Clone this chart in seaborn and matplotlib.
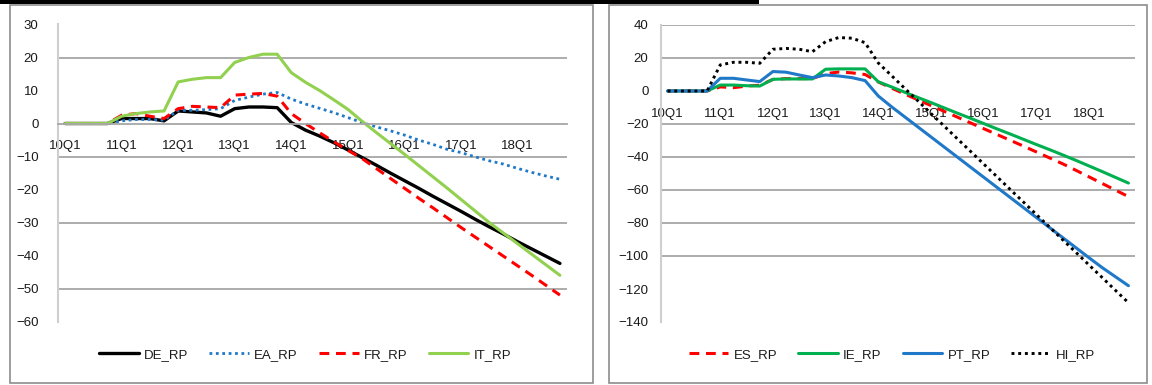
import matplotlib
matplotlib.use("Agg")
import matplotlib.pyplot as plt
import numpy as np
import seaborn as sns
from matplotlib.patches import Rectangle

# quarters 10Q1 .. 18Q4
quarters = [f"{y}Q{q}" for y in range(10, 19) for q in range(1, 5)]

# left panel
de_rp = [0, 0, 0, 0, 1.5, 1.5, 1.5, 0.8, 3.8, 3.5, 3.2, 2.2, 4.5, 5.0, 5.0, 4.8,
         0.3, -2.0, -3.8, -5.8, -8.0, -10.3, -12.6, -15.0, -17.3, -19.6, -22.0, -24.3,
         -26.6, -29.0, -31.3, -33.5, -35.8, -38.0, -40.2, -42.4]
ea_rp = [0, 0, 0, 0, 0.8, 1.2, 1.2, 1.0, 4.0, 4.0, 4.2, 4.5, 7.0, 8.0, 8.9, 9.4,
         7.4, 5.9, 4.6, 3.3, 1.8, 0.3, -1.0, -2.2, -3.5, -5.0, -6.3, -7.8,
         -8.8, -10.1, -11.3, -12.3, -13.6, -14.8, -15.9, -16.9]
fr_rp = [0, 0, 0, 0, 2.5, 3.0, 2.2, 1.5, 4.5, 5.2, 5.0, 4.8, 8.6, 8.9, 9.1, 8.3,
         3.0, 0.0, -2.8, -5.5, -8.1, -10.6, -13.6, -16.6, -19.6, -22.6, -25.5, -28.5,
         -31.5, -34.4, -37.3, -40.2, -43.1, -46.0, -49.0, -52.0]
it_rp = [0, 0, 0, 0, 2.2, 3.0, 3.5, 3.8, 12.6, 13.4, 13.9, 13.9, 18.5, 20.0, 21.0, 21.0,
         15.4, 12.5, 10.0, 7.2, 4.3, 0.7, -2.7, -6.0, -9.3, -12.7, -16.1, -19.5,
         -23.0, -26.5, -30.0, -33.2, -36.4, -39.6, -42.8, -46.0]

# right panel
es_rp = [0, 0, 0, 0, 2.5, 2.0, 3.0, 3.5, 7.0, 7.5, 7.5, 7.5, 10.5, 11.5, 11.0, 10.0,
         5.5, 1.8, -1.8, -5.3, -8.8, -12.3, -15.8, -19.3, -22.8, -26.3, -29.8, -33.3,
         -36.9, -40.5, -44.1, -48.0, -52.0, -56.0, -60.0, -64.0]
ie_rp = [0, 0, 0, 0, 3.6, 3.6, 3.2, 3.0, 7.1, 7.3, 7.3, 7.3, 13.2, 13.4, 13.4, 13.4,
         5.6, 2.5, -0.7, -3.9, -7.0, -10.2, -13.4, -16.5, -19.7, -22.9, -26.0, -29.2,
         -32.4, -35.5, -38.7, -42.0, -45.4, -48.8, -52.3, -55.8]
pt_rp = [0, 0, 0, 0, 7.7, 7.7, 6.7, 5.7, 11.8, 11.4, 9.7, 8.1, 9.7, 9.1, 8.1, 6.3,
         -3.0, -9.5, -15.6, -21.7, -27.8, -33.9, -40.0, -46.1, -52.2, -58.3, -64.4, -70.5,
         -76.6, -82.7, -88.8, -94.9, -101.0, -107.0, -112.5, -118.0]
hi_rp = [0, 0, 0, 0, 15.8, 17.4, 17.4, 16.8, 25.3, 25.8, 25.3, 23.8, 29.9, 32.4, 32.0, 29.3,
         17.0, 9.4, 1.7, -5.9, -13.6, -21.2, -28.9, -36.5, -44.2, -51.8, -59.5, -67.1,
         -74.8, -82.4, -90.1, -97.7, -105.4, -113.0, -120.7, -128.3]

left_grid = [20, -10, -30, -50]
right_grid = [40, 20, -20, -40, -60, -80, -100]

sns.set_style("white")
plt.rcParams['font.family'] = ['Liberation Sans', 'DejaVu Sans']
txt = '#1a1a1a'
W, H = 1152, 385

fig = plt.figure(figsize=(11.52, 3.85), dpi=100)
ax1 = fig.add_axes([58 / W, 1 - 321.5 / H, 509 / W, 297 / H])
ax2 = fig.add_axes([661 / W, 1 - 322 / H, 474 / W, 297 / H])

x = np.arange(len(quarters))

left_series = [
    ("DE_RP", de_rp, "black", "-", 2.4),
    ("EA_RP", ea_rp, "#1f78c8", (0, (1, 1.3)), 2.0),
    ("FR_RP", fr_rp, "#ff0000", (0, (3.2, 2.2)), 2.2),
    ("IT_RP", it_rp, "#92d050", "-", 2.2),
]
right_series = [
    ("ES_RP", es_rp, "#ff0000", (0, (3.2, 2.2)), 2.2),
    ("IE_RP", ie_rp, "#00b050", "-", 2.2),
    ("PT_RP", pt_rp, "#1f78c8", "-", 2.2),
    ("HI_RP", hi_rp, "black", (0, (1, 1.3)), 2.1),
]

for ax, series in [(ax1, left_series), (ax2, right_series)]:
    for name, vals, col, ls, lw in series:
        sns.lineplot(x=x, y=vals, ax=ax, color=col, linestyle=ls, linewidth=lw, label=name)
    if ax.get_legend():
        ax.get_legend().remove()
    ax.set_xlabel('')
    ax.set_ylabel('')

for ax, grid, lims, step in [(ax1, left_grid, (-60, 30), 10), (ax2, right_grid, (-140, 40), 20)]:
    for g in grid:
        ax.axhline(g, color='#a6a6a6', lw=1.3, zorder=0)
    ax.set_ylim(*lims)
    ax.set_xlim(-0.5, len(quarters) - 0.5)
    ax.set_yticks(np.arange(lims[0], lims[1] + 1, step))
    ax.set_xticks(x[::4])
    ax.set_xticklabels(quarters[::4])
    ax.set_xticks(np.arange(-0.5, len(quarters), 1), minor=True)
    ax.spines['top'].set_visible(False)
    ax.spines['right'].set_visible(False)
    ax.spines['left'].set_color('#cfcfcf')
    ax.spines['left'].set_linewidth(1.5)
    ax.spines['bottom'].set_position(('data', 0))
    ax.spines['bottom'].set_color('#a6a6a6')
    ax.spines['bottom'].set_linewidth(1.3)
    ax.tick_params(axis='x', which='major', length=0, pad=12, labelsize=9.5, labelcolor=txt)
    ax.tick_params(axis='x', which='minor', length=5, width=1, color='#b0b0b0', direction='out')
    ax.tick_params(axis='y', length=4, width=1, color='#b0b0b0', labelsize=9.5, labelcolor=txt)

ax1.tick_params(axis='y', pad=10)
ax2.tick_params(axis='y', pad=5)
ax2.spines['bottom'].set_color('none')

for ax, cx in [(ax1, 305 / W), (ax2, 892 / W)]:
    h, l = ax.get_legend_handles_labels()
    fig.legend(h, l, loc='center', bbox_to_anchor=(cx, 0.078), ncol=4, frameon=False,
               fontsize=9.5, handlelength=3, columnspacing=1.6, handletextpad=0.4,
               labelcolor=txt)

# chart area borders and the cut-off caption bar at the top
fig.add_artist(Rectangle((10 / W, 2 / H), 583 / W, 378 / H, transform=fig.transFigure,
                         fill=False, ec='#8c8c8c', lw=1.2))
fig.add_artist(Rectangle((609 / W, 2 / H), 538 / W, 378 / H, transform=fig.transFigure,
                         fill=False, ec='#8c8c8c', lw=1.2))
fig.add_artist(Rectangle((0, 1 - 3.5 / H), 759 / W, 3.5 / H, transform=fig.transFigure,
                         color='black', lw=0))

fig.savefig('out.png', dpi=100)
